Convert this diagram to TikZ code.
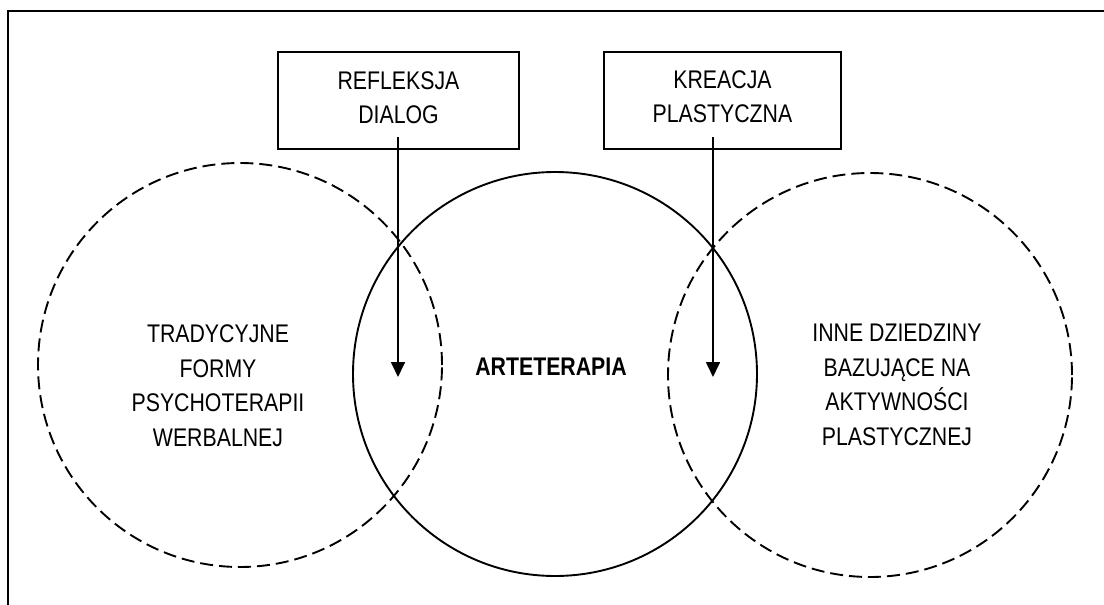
\documentclass[tikz,border=0pt]{standalone}
\usepackage{fontspec}
\setmainfont{Liberation Sans}[FakeStretch=0.835]
\usetikzlibrary{arrows.meta}
\tikzset{
  every picture/.style={x=1pt,y=-1pt},
  frameline/.style={line width=2pt},
  boxnode/.style={draw,line width=1.8pt,rectangle,inner sep=0pt},
  field/.style={circle,draw,line width=1.9pt,inner sep=0pt,minimum size=404pt},
  dashedfield/.style={field,dash pattern=on 13pt off 6pt},
  label/.style={align=center,font=\fontsize{25.5}{34.5}\selectfont,inner sep=0pt},
  pointer/.style={line width=1.7pt,-{Triangle[length=15pt,width=14pt]}}
}
\begin{document}
\begin{tikzpicture}
\useasboundingbox (0,0) rectangle (1104,605);
% page frame (open at the right and bottom)
\draw[frameline] (8,605) -- (8,10.5) -- (1104,10.5);

% three overlapping fields
\node[dashedfield] (trad) at (240,365) {};
\node[field] (art) at (555,374) {};
\node[dashedfield] (inne) at (870,375) {};

% field labels
\node[label] (tradtxt) at (218,385.5) {TRADYCYJNE\\FORMY\\PSYCHOTERAPII\\WERBALNEJ};
\node[label,font=\fontsize{25.5}{34.5}\selectfont\bfseries] (arttxt) at (551,367) {ARTETERAPIA};
\node[label] (innetxt) at (897,385) {INNE DZIEDZINY\\BAZUJĄCE NA\\AKTYWNOŚCI\\PLASTYCZNEJ};

% top boxes
\node[boxnode,minimum width=241pt,minimum height=97pt] (refbox) at (398.5,100.5) {};
\node[label] (reftxt) at (398.5,97.5) {REFLEKSJA\\DIALOG};
\node[boxnode,minimum width=237pt,minimum height=97pt] (kreabox) at (722.5,100.5) {};
\node[label] (kreatxt) at (722.5,96.5) {KREACJA\\PLASTYCZNA};

% pointers into the overlaps
\coordinate (refstart) at (398,137);
\coordinate (refend) at (398,377);
\coordinate (kreastart) at (713,137);
\coordinate (kreaend) at (713,377);
\draw[pointer] (refstart) -- (refend);
\draw[pointer] (kreastart) -- (kreaend);
\end{tikzpicture}
\end{document}
